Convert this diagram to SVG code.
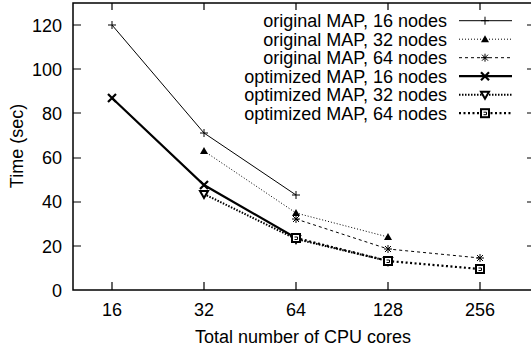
<svg xmlns="http://www.w3.org/2000/svg" width="531" height="351" viewBox="0 0 531 351">
  <style>
    text { font-family: "Liberation Sans", Arial, sans-serif; font-size: 18px; fill: #000; }
    .ylab { text-anchor: end; }
    .xlab { text-anchor: middle; }
    .key { text-anchor: end; }
    .frame { fill: none; stroke: #000; stroke-width: 1.5; }
    .tick { stroke: #000; stroke-width: 1.2; }
    .s1 { fill: none; stroke: #000; stroke-width: 1; }
    .s2 { fill: none; stroke: #000; stroke-width: 1; stroke-dasharray: 1 2; }
    .s3 { fill: none; stroke: #000; stroke-width: 1; stroke-dasharray: 3 3; }
    .s4 { fill: none; stroke: #000; stroke-width: 2.2; }
    .s5 { fill: none; stroke: #000; stroke-width: 2; stroke-dasharray: 1.5 1.5; }
    .s6 { fill: none; stroke: #000; stroke-width: 2.2; stroke-dasharray: 2 2.5; }
  </style>
  <defs>
    <g id="pt-plus"><path d="M-4,0H4M0,-4V4" stroke="#000" stroke-width="1" fill="none"/></g>
    <g id="pt-tri"><path d="M0,-4L4,3H-4Z" fill="#000"/></g>
    <g id="pt-star"><path d="M-4,0H4M0,-4V4M-3,-3L3,3M-3,3L3,-3" stroke="#000" stroke-width="1" fill="none"/></g>
    <g id="pt-cross"><path d="M-4,-4L4,4M-4,4L4,-4" stroke="#000" stroke-width="2.2" fill="none"/></g>
    <g id="pt-itri"><path d="M-4,-3H4L0,4Z" stroke="#000" stroke-width="2" fill="#fff"/></g>
    <g id="pt-box"><rect x="-4" y="-4" width="8" height="8" stroke="#000" stroke-width="2" fill="#fff"/><path d="M-1.5,-1H1.5V1.5H-1.5" stroke="#000" stroke-width="1" fill="none"/></g>
  </defs>

  <!-- axes frame and ticks -->
  <g id="axes">
    <rect class="frame" x="73" y="3" width="462" height="287"/>
    <path class="tick" d="M73,25h8M73,69h8M73,113h8M73,158h8M73,202h8M73,246h8
                          M535,25h-8M535,69h-8M535,113h-8M535,158h-8M535,202h-8M535,246h-8
                          M112,290v-8M204,290v-8M296,290v-8M388,290v-8M480,290v-8
                          M112,3v7M204,3v7M296,3v7M388,3v7M480,3v7"/>
    <text class="ylab" x="62" y="31.5">120</text>
    <text class="ylab" x="62" y="75.5">100</text>
    <text class="ylab" x="62" y="119.5">80</text>
    <text class="ylab" x="62" y="164">60</text>
    <text class="ylab" x="62" y="208">40</text>
    <text class="ylab" x="62" y="252.5">20</text>
    <text class="ylab" x="62" y="296.5">0</text>
    <text class="xlab" x="112" y="315.5">16</text>
    <text class="xlab" x="204" y="315.5">32</text>
    <text class="xlab" x="296" y="315.5">64</text>
    <text class="xlab" x="388" y="315.5">128</text>
    <text class="xlab" x="480" y="315.5">256</text>
    <text class="xlab" x="303" y="342.5">Total number of CPU cores</text>
    <text class="xlab" transform="translate(23,146) rotate(-90)">Time (sec)</text>
  </g>

  <!-- data series -->
  <g id="connectors">
    <polyline class="s1" points="112,25 204,133 296,195"/>
    <polyline class="s2" points="204,151 296,213 388,237"/>
    <polyline class="s3" points="296,219 388,249 480,258"/>
    <polyline class="s4" points="112,98 204,185 296,238"/>
    <polyline class="s5" points="204,194 296,239 388,261"/>
    <polyline class="s6" points="296,238 388,261 480,269"/>
  </g>

  <g id="orig16">
    <use href="#pt-plus" x="112" y="25"/><use href="#pt-plus" x="204" y="133"/><use href="#pt-plus" x="296" y="195"/>
  </g>
  <g id="orig32">
    <use href="#pt-tri" x="204" y="151"/><use href="#pt-tri" x="296" y="213"/><use href="#pt-tri" x="388" y="237"/>
  </g>
  <g id="orig64">
    <use href="#pt-star" x="296" y="219"/><use href="#pt-star" x="388" y="249"/><use href="#pt-star" x="480" y="258"/>
  </g>
  <g id="opt16">
    <use href="#pt-cross" x="112" y="98"/><use href="#pt-cross" x="204" y="185"/><use href="#pt-cross" x="296" y="238"/>
  </g>
  <g id="opt32">
    <use href="#pt-itri" x="204" y="194"/><use href="#pt-itri" x="296" y="239"/><use href="#pt-itri" x="388" y="261"/>
  </g>
  <g id="opt64">
    <use href="#pt-box" x="296" y="238"/><use href="#pt-box" x="388" y="261"/><use href="#pt-box" x="480" y="269"/>
  </g>

  <!-- key -->
  <g id="legend">
    <text class="key" x="447" y="27">original MAP, 16 nodes</text>
    <path class="s1" d="M459,20.7H512"/><use href="#pt-plus" x="485" y="20.7"/>
    <text class="key" x="447" y="45.5">original MAP, 32 nodes</text>
    <path class="s2" d="M459,39.2H512"/><use href="#pt-tri" x="485" y="39.2"/>
    <text class="key" x="447" y="64">original MAP, 64 nodes</text>
    <path class="s3" d="M459,57.7H512"/><use href="#pt-star" x="485" y="57.7"/>
    <text class="key" x="447" y="82.5">optimized MAP, 16 nodes</text>
    <path class="s4" d="M459,76.2H512"/><use href="#pt-cross" x="485" y="76.2"/>
    <text class="key" x="447" y="101">optimized MAP, 32 nodes</text>
    <path class="s5" d="M459,94.7H512"/><use href="#pt-itri" x="485" y="94.7"/>
    <text class="key" x="447" y="119.5">optimized MAP, 64 nodes</text>
    <path class="s6" d="M459,113.2H512"/><use href="#pt-box" x="485" y="113.2"/>
  </g>
</svg>
